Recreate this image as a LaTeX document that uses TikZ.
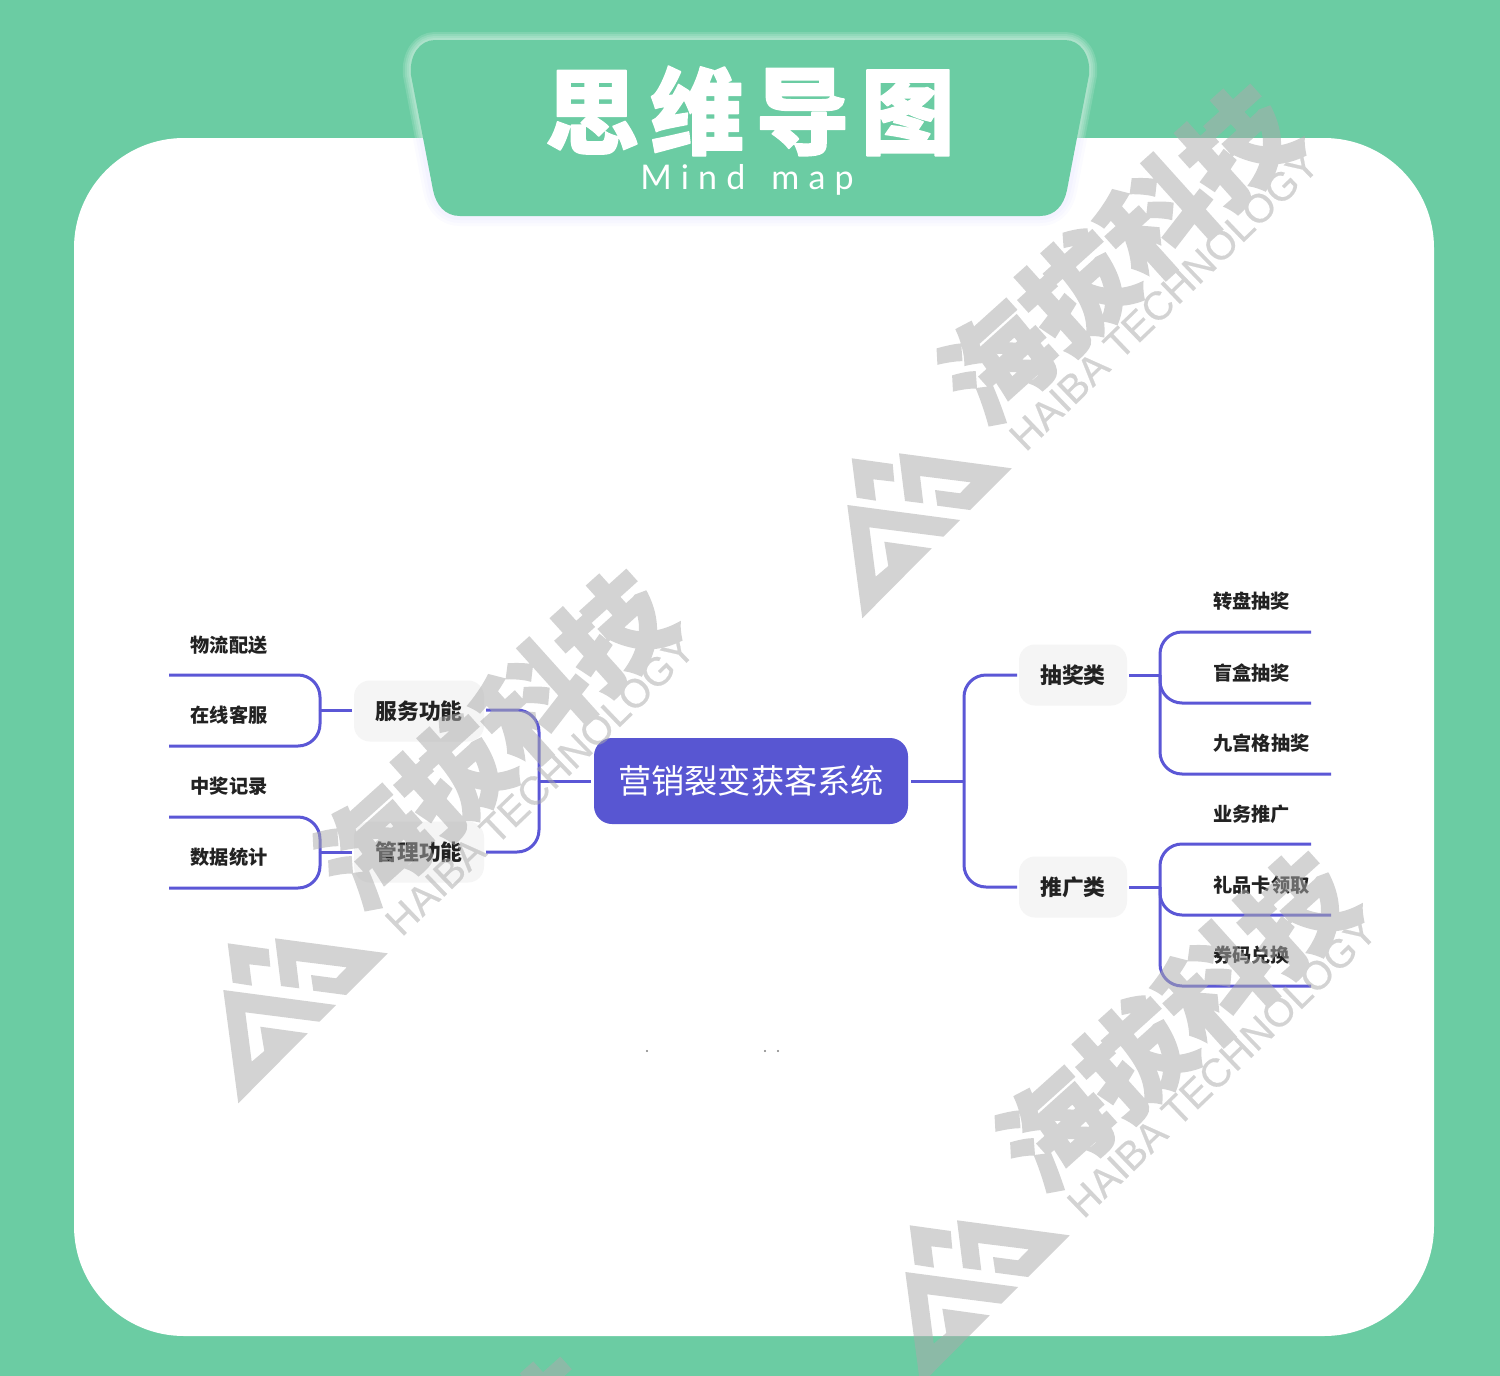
\documentclass[tikz,border=0pt]{standalone}
\usepackage{fontspec}
\newfontfamily\cjk{Noto Sans CJK SC}
\newfontfamily\cjktitle[FakeBold=1.5,LetterSpace=12]{Noto Sans CJK SC}
\newfontfamily\cjkmark[FakeBold=2.5]{Noto Sans CJK SC}
\newfontfamily\latintitle[LetterSpace=27]{Lato}
\newfontfamily\markfont[FakeBold=.4]{Liberation Sans}
\definecolor{mintbg}{HTML}{6BCCA3}
\definecolor{linkblue}{HTML}{5B57D6}
\definecolor{rootblue}{HTML}{5856D2}
\definecolor{branchgray}{HTML}{F5F5F5}
\definecolor{inkdark}{HTML}{222222}
\definecolor{markgrey}{HTML}{ABABAB}
\tikzset{
	link/.style={draw=linkblue,line width=1.5pt,line cap=butt},
	fork/.style={link,rounded corners=11pt},
	rootbox/.style={fill=rootblue,rounded corners=9pt,text=white,minimum width=157pt,minimum height=43pt,inner sep=0pt,outer sep=1.5pt,font=\cjk\fontsize{16.6}{20}\selectfont},
	branchbox/.style={fill=branchgray,rounded corners=8pt,text=inkdark,minimum height=30.5pt,inner sep=0pt,outer sep=1pt,font=\cjk\bfseries\fontsize{10.9}{13}\selectfont},
	leaf/.style={text=inkdark,inner sep=0pt,font=\cjk\bfseries\fontsize{9.6}{12}\selectfont},
	markshape/.style={fill=markgrey,draw=none},
	marktext/.style={text=markgrey,inner sep=0pt},
}
\newcommand{\wmark}[2]{
	\begin{scope}[shift={(#1,#2)},transparency group,opacity=.52]
		\fill[markshape] (851.7,458.3)--(892.7,464)--(894.3,481.7)--(873.3,479.3)--(876,500.7)--(856.7,497.7)--cycle;
		\fill[markshape] (899,453.3)--(1011.7,468.3)--(970,510)--(937.3,505.7)--(935,490)--(960,493.3)--(970.7,482.3)--(920,476)--(923.3,503.3)--(905,501)--cycle;
		\fill[markshape] (847.3,505)--(960,520)--(943.3,536.7)--(869.3,527.3)--(875.7,576.7)--(888.3,566)--(884.3,541.7)--(931.7,548.3)--(862.3,618.3)--cycle;
		\node[marktext,rotate=42,font=\cjkmark\bfseries\fontsize{54}{60}\selectfont] at (1118,254) {海拔科技};
		\node[marktext,rotate=44,font=\markfont\fontsize{20}{22}\selectfont] at (1164,300) {HAIBA TECHNOLOGY};
	\end{scope}
}
\begin{document}
\begin{tikzpicture}[x=.5pt,y=-.5pt,line join=round]
	\useasboundingbox (0,0) rectangle (1500,1376);
	\fill[mintbg] (0,0) rectangle (1500,1376);
	\fill[white,rounded corners=55pt] (74,138) rectangle (1434,1336);
	% title tab with its glow
	\def\tabpath{(411,75) .. controls (409,55) and (420,40) .. (435,40) -- (1065,40) .. controls (1080,40) and (1091,55) .. (1089,75) -- (1067,190) .. controls (1064,205) and (1055,216) .. (1040,216) -- (460,216) .. controls (445,216) and (436,205) .. (433,190) -- cycle}
	\begin{scope}
		\clip (380,0) rectangle (1120,138);
		\foreach \w in {8,6,4,2} \draw[white,opacity=.14,line width=\w pt] \tabpath;
	\end{scope}
	\begin{scope}
		\clip (380,138) rectangle (1120,240);
		\foreach \w in {10,7,4} \draw[blue!40!white,opacity=.04,line width=\w pt] \tabpath;
	\end{scope}
	\fill[mintbg] \tabpath;
	\node[text=white,inner sep=0pt,font=\cjktitle\bfseries\fontsize{47}{54}\selectfont] (maintitle) at (750,111) {思维导图};
	\node[text=white,inner sep=0pt,font=\latintitle\fontsize{17}{20}\selectfont] (subtitle) at (747,180) {Mind\hspace{13pt}map};
	% centre and branches
	\node[rootbox] (root) at (751,781) {\raisebox{1pt}{营销裂变获客系统}};
	\node[branchbox,minimum width=65pt] (fuwu) at (419,711) {\raisebox{.5pt}{服务功能}};
	\node[branchbox,minimum width=65pt] (guanli) at (419,852) {\raisebox{.5pt}{管理功能}};
	\node[branchbox,minimum width=54pt] (choujiang) at (1073,675) {\raisebox{.5pt}{抽奖类}};
	\node[branchbox,minimum width=54pt] (tuiguang) at (1073,887) {\raisebox{.5pt}{推广类}};
	% leaves
	\path (229,645) node[leaf] (wuliu) {物流配送} (229,715.5) node[leaf] (kefu) {在线客服};
	\path (229,786) node[leaf] (jilu) {中奖记录} (229,857) node[leaf] (tongji) {数据统计};
	\path (1251.5,601.5) node[leaf] (zhuanpan) {转盘抽奖} (1251.5,673) node[leaf] (manghe) {盲盒抽奖};
	\path (1261.5,743) node[leaf] (jiugong) {九宫格抽奖} (1251.5,814) node[leaf] (yewu) {业务推广};
	\path (1261.5,885) node[leaf] (lipin) {礼品卡领取} (1251.5,955) node[leaf] (quanma) {券码兑换};
	% line ends and junctions
	\coordinate (leftjoin) at (539,781);
	\coordinate (rightjoin) at (964,781);
	\coordinate (fuwujoin) at (320,710);
	\coordinate (guanlijoin) at (320,852);
	\coordinate (choujoin) at (1160,675);
	\coordinate (tuijoin) at (1160,887);
	\coordinate (wuliuend) at (169,675);
	\coordinate (kefuend) at (169,746);
	\coordinate (jiluend) at (169,817);
	\coordinate (tongjiend) at (169,888);
	\coordinate (zhuanpanend) at (1311,632);
	\coordinate (mangheend) at (1311,703);
	\coordinate (jiugongend) at (1331,774);
	\coordinate (yewuend) at (1311,844);
	\coordinate (lipinend) at (1331,915);
	\coordinate (quanmaend) at (1311,986);
	% connectors
	\draw[link] (root.west)--(leftjoin);
	\draw[link] (root.east)--(rightjoin);
	\draw[fork] (leftjoin) |- (fuwu.east |- fuwujoin);
	\draw[fork] (leftjoin) |- (guanli.east);
	\draw[fork] (rightjoin) |- (choujiang.west);
	\draw[fork] (rightjoin) |- (tuiguang.west);
	\draw[link] (fuwu.west |- fuwujoin)--(fuwujoin);
	\draw[link] (guanli.west)--(guanlijoin);
	\draw[link] (choujiang.east)--(choujoin);
	\draw[link] (tuiguang.east)--(tuijoin);
	\foreach \e in {wuliuend,kefuend} \draw[fork] (fuwujoin) |- (\e);
	\foreach \e in {jiluend,tongjiend} \draw[fork] (guanlijoin) |- (\e);
	\foreach \e in {zhuanpanend,mangheend,jiugongend} \draw[fork] (choujoin) |- (\e);
	\foreach \e in {yewuend,lipinend,quanmaend} \draw[fork] (tuijoin) |- (\e);
	% stray specks under the map
	\foreach \x in {647,765,778} \fill[gray] (\x,1051) circle (1.2);
	% watermarks over everything
	\wmark{0}{0}
	\wmark{-624}{485}
	\wmark{58}{767}
	\wmark{-690}{1273}
\end{tikzpicture}
\end{document}
